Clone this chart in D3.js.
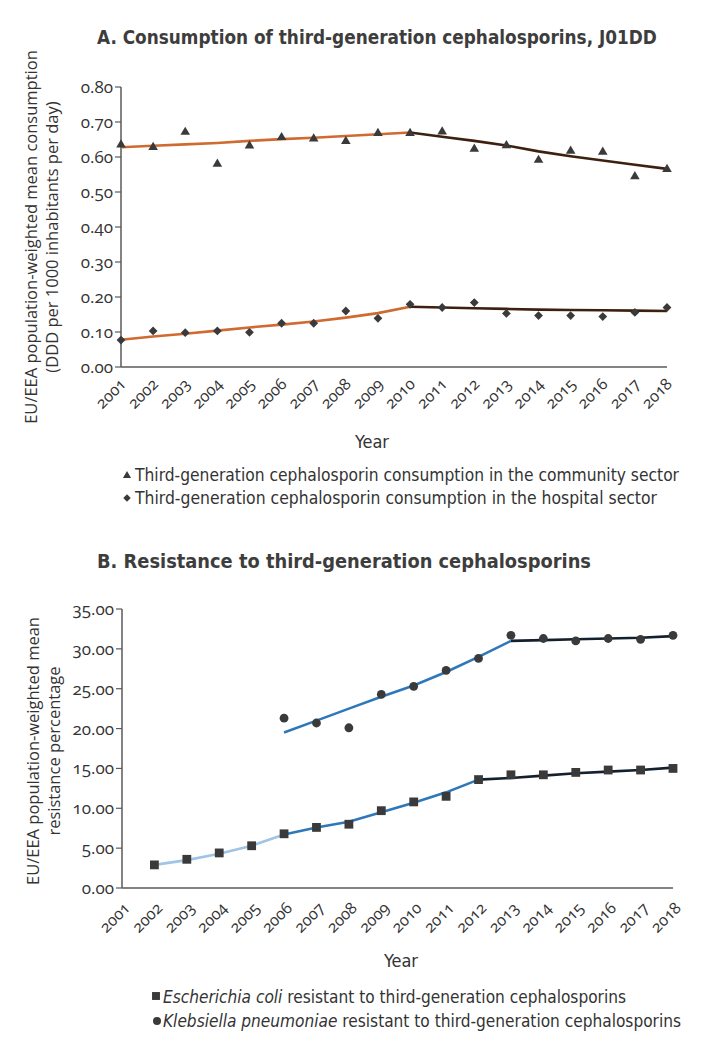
<!DOCTYPE html>
<html><head><meta charset="utf-8">
<script src="https://cdn.jsdelivr.net/npm/d3@7"></script>
<style>
html,body{margin:0;padding:0;background:#fff;}
svg{display:block;}
.tick-num{font-family:"Open Sans","Noto Sans",sans-serif;font-variant-numeric:oldstyle-nums;font-feature-settings:"onum";fill:#333;}
.cond{font-family:"Liberation Sans Narrow","DejaVu Sans Condensed",sans-serif;fill:#333;}
.ylab{font-family:"Open Sans","Noto Sans",sans-serif;fill:#333;font-size:16.5px;}
</style></head>
<body>
<script>
// ---------- DATA ----------
const years = d3.range(2001, 2019).map(String);

// Panel A: consumption (DDD per 1000 inhabitants per day)
const communityValues = [0.637,0.630,0.673,0.582,0.634,0.658,0.654,0.647,0.670,0.670,0.674,0.625,0.635,0.593,0.619,0.616,0.546,0.567];
const communityTrend1 = [0.628,0.632,0.636,0.640,0.646,0.651,0.655,0.660,0.665,0.670]; // 2001-2010
const communityTrend2 = [0.670,0.658,0.646,0.633,0.616,0.602,0.590,0.578,0.566];       // 2010-2018
const hospitalValues  = [0.077,0.103,0.098,0.103,0.099,0.125,0.125,0.160,0.139,0.179,0.170,0.184,0.153,0.147,0.147,0.144,0.156,0.170];
const hospitalTrend1  = [0.078,0.087,0.095,0.104,0.113,0.121,0.130,0.141,0.154,0.172]; // 2001-2010
const hospitalTrend2  = [0.172,0.170,0.168,0.166,0.164,0.163,0.162,0.161,0.160];       // 2010-2018
const yTicksA = [0,0.1,0.2,0.3,0.4,0.5,0.6,0.7,0.8];

// Panel B: resistance percentage
const ecoliYears = d3.range(2002, 2019).map(String);
const ecoliValues = [2.9,3.6,4.4,5.3,6.8,7.6,8.0,9.7,10.8,11.5,13.6,14.2,14.2,14.5,14.8,14.8,15.0];
const ecoliTrend1Years = ["2002","2003","2004","2005","2006"];
const ecoliTrend1 = [2.9,3.5,4.3,5.3,6.7];
const ecoliTrend2Years = ["2006","2007","2008","2009","2010","2011","2012"];
const ecoliTrend2 = [6.7,7.6,8.3,9.5,10.7,12.0,13.6];
const ecoliTrend3Years = ["2012","2013","2014","2015","2016","2017","2018"];
const ecoliTrend3 = [13.6,13.8,14.1,14.4,14.6,14.8,15.1];

const kpnYears = d3.range(2006, 2019).map(String);
const kpnValues = [21.3,20.7,20.1,24.3,25.3,27.3,28.8,31.7,31.3,31.0,31.3,31.2,31.7];
const kpnTrend1Years = ["2006","2007","2008","2009","2010","2011","2012","2013"];
const kpnTrend1 = [19.5,21.0,22.5,24.0,25.4,27.1,29.0,31.0];
const kpnTrend2Years = ["2013","2014","2015","2016","2017","2018"];
const kpnTrend2 = [31.0,31.1,31.2,31.3,31.4,31.6];
const yTicksB = [0,5,10,15,20,25,30,35];

// ---------- STYLE ----------
const W = 703, H = 1050;
const axisCol = "#5a5a5a", markCol = "#3a3a3a";
const orange = "#cf6a30", brown = "#3d2010";
const lightBlue = "#9fc4e6", midBlue = "#2e77b8", navy = "#13202e";

const svg = d3.select("body").append("svg").attr("width", W).attr("height", H);

function fit(sel, w){
  const n = sel.node();
  const cur = n.getComputedTextLength();
  if (Math.abs(cur - w) > 1) sel.attr("textLength", w).attr("lengthAdjust", "spacingAndGlyphs");
}
function fitSize(sel, w, base){
  const cur = sel.node().getComputedTextLength();
  sel.style("font-size", (base * w / cur).toFixed(2) + "px");
}

const triPath = "M0,-4.8L4.8,3.4L-4.8,3.4Z";
const diaPath = "M0,-4.4L4.4,0L0,4.4L-4.4,0Z";
const sqPath  = "M-4.4,-4.4L4.4,-4.4L4.4,4.4L-4.4,4.4Z";

function axes(g, x, y, yTicks, fmt, x0, x1, yBottom, yTop, labDx, labDy){
  g.append("line").attr("x1", x0).attr("x2", x0).attr("y1", yTop).attr("y2", yBottom)
    .attr("stroke", axisCol).attr("stroke-width", 1.5);
  g.append("line").attr("x1", x0).attr("x2", x1).attr("y1", yBottom).attr("y2", yBottom)
    .attr("stroke", axisCol).attr("stroke-width", 1.5);
  const yt = g.selectAll(".yt").data(yTicks).enter().append("g").attr("transform", d => `translate(${x0},${y(d)})`);
  yt.append("line").attr("x1", -6).attr("x2", 0).attr("stroke", axisCol).attr("stroke-width", 1.2);
  yt.append("text").attr("class", "tick-num").attr("x", -8).attr("dy", "0.35em")
    .attr("text-anchor", "end").style("font-size", "17px").text(d => fmt(d));
  g.selectAll(".xt").data(years).enter().append("text")
    .attr("class", "tick-num").style("font-size", "16px").attr("text-anchor", "end")
    .attr("transform", d => `translate(${x(d) + labDx},${yBottom + labDy}) rotate(-45)`)
    .text(d => d);
}

// ---------- PANEL A ----------
const gA = svg.append("g");
const xA = d3.scalePoint().domain(years).range([121, 667]);
const yA = d3.scaleLinear().domain([0, 0.8]).range([367, 87]);

gA.append("text").attr("class", "cond").attr("x", 97).attr("y", 44)
  .style("font-size", "21px").style("font-weight", "bold").style("fill", "#3d3d3d")
  .text("A. Consumption of third-generation cephalosporins, J01DD")
  .call(s => fitSize(s, 560, 21));

axes(gA, xA, yA, yTicksA, d3.format(".2f"), 121, 667, 367, 87, 6, 18);

gA.append("text").attr("class", "ylab").attr("transform", "translate(37,237) rotate(-90)")
  .attr("text-anchor", "middle").text("EU/EEA population-weighted mean consumption");
gA.append("text").attr("class", "ylab").attr("transform", "translate(58,237) rotate(-90)")
  .attr("text-anchor", "middle").text("(DDD per 1000 inhabitants per day)");

const lineA = (yrs) => d3.line().x((d, i) => xA(yrs[i])).y(d => yA(d));
const yrsA1 = years.slice(0, 10), yrsA2 = years.slice(9);
gA.append("path").attr("d", lineA(yrsA1)(communityTrend1)).attr("fill", "none").attr("stroke", orange).attr("stroke-width", 2.6);
gA.append("path").attr("d", lineA(yrsA2)(communityTrend2)).attr("fill", "none").attr("stroke", brown).attr("stroke-width", 2.6);
gA.append("path").attr("d", lineA(yrsA1)(hospitalTrend1)).attr("fill", "none").attr("stroke", orange).attr("stroke-width", 2.6);
gA.append("path").attr("d", lineA(yrsA2)(hospitalTrend2)).attr("fill", "none").attr("stroke", brown).attr("stroke-width", 2.6);

gA.selectAll(".tri").data(communityValues).enter().append("path").attr("d", triPath)
  .attr("transform", (d, i) => `translate(${xA(years[i])},${yA(d)})`).attr("fill", markCol);
gA.selectAll(".dia").data(hospitalValues).enter().append("path").attr("d", diaPath)
  .attr("transform", (d, i) => `translate(${xA(years[i])},${yA(d)})`).attr("fill", markCol);

gA.append("text").attr("class", "cond").attr("x", 372).attr("y", 448).attr("text-anchor", "middle")
  .style("font-size", "18px").text("Year");

const legA = [
  {t: "Third-generation cephalosporin consumption in the community sector", p: triPath, y: 481, w: 544},
  {t: "Third-generation cephalosporin consumption in the hospital sector", p: diaPath, y: 504, w: 522}
];
legA.forEach(l => {
  gA.append("path").attr("d", l.p).attr("transform", `translate(127,${l.y - 6}) scale(0.85)`).attr("fill", markCol);
  gA.append("text").attr("class", "cond").attr("x", 135).attr("y", l.y).style("font-size", "18px").text(l.t).call(s => fit(s, l.w));
});

// ---------- PANEL B ----------
const gB = svg.append("g");
const xB = d3.scalePoint().domain(years).range([122, 673]);
const yB = d3.scaleLinear().domain([0, 35]).range([888, 609]);

gB.append("text").attr("class", "cond").attr("x", 97).attr("y", 568)
  .style("font-size", "21px").style("font-weight", "bold").style("fill", "#3d3d3d")
  .text("B. Resistance to third-generation cephalosporins")
  .call(s => fitSize(s, 494, 21));

axes(gB, xB, yB, yTicksB, d3.format(".2f"), 122, 673, 888, 609, 9, 21);

gB.append("text").attr("class", "ylab").attr("transform", "translate(39,751) rotate(-90)")
  .attr("text-anchor", "middle").text("EU/EEA population-weighted mean");
gB.append("text").attr("class", "ylab").attr("transform", "translate(60,751) rotate(-90)")
  .attr("text-anchor", "middle").text("resistance percentage");

const lineB = (yrs) => d3.line().x((d, i) => xB(yrs[i])).y(d => yB(d));
[[ecoliTrend1Years, ecoliTrend1, lightBlue],[ecoliTrend2Years, ecoliTrend2, midBlue],[ecoliTrend3Years, ecoliTrend3, navy],
 [kpnTrend1Years, kpnTrend1, midBlue],[kpnTrend2Years, kpnTrend2, navy]].forEach(([yy, vv, c]) => {
  gB.append("path").attr("d", lineB(yy)(vv)).attr("fill", "none").attr("stroke", c).attr("stroke-width", 2.6);
});

gB.selectAll(".sq").data(ecoliValues).enter().append("path").attr("d", sqPath)
  .attr("transform", (d, i) => `translate(${xB(ecoliYears[i])},${yB(d)})`).attr("fill", markCol);
gB.selectAll(".ci").data(kpnValues).enter().append("circle").attr("r", 4.4)
  .attr("cx", (d, i) => xB(kpnYears[i])).attr("cy", d => yB(d)).attr("fill", markCol);

gB.append("text").attr("class", "cond").attr("x", 401).attr("y", 967).attr("text-anchor", "middle")
  .style("font-size", "18px").text("Year");

// legend B
gB.append("path").attr("d", sqPath).attr("transform", "translate(156,996) scale(0.9)").attr("fill", markCol);
const lb1 = gB.append("text").attr("class", "cond").attr("x", 163).attr("y", 1003).style("font-size", "18px");
lb1.append("tspan").style("font-style", "italic").text("Escherichia coli");
lb1.append("tspan").text(" resistant to third-generation cephalosporins");
fit(lb1, 463);
gB.append("circle").attr("r", 4).attr("cx", 157).attr("cy", 1021).attr("fill", markCol);
const lb2 = gB.append("text").attr("class", "cond").attr("x", 163).attr("y", 1027).style("font-size", "18px");
lb2.append("tspan").style("font-style", "italic").text("Klebsiella pneumoniae");
lb2.append("tspan").text(" resistant to third-generation cephalosporins");
fit(lb2, 518);
</script>
</body></html>
